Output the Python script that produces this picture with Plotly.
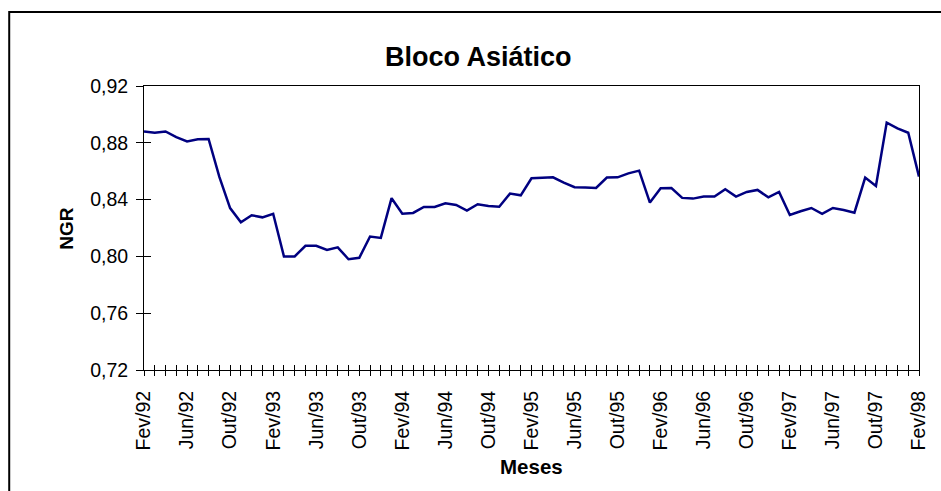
import plotly.graph_objects as go

# ---- data ----
month_abbr = ["Jan", "Fev", "Mar", "Abr", "Mai", "Jun", "Jul", "Ago", "Set", "Out", "Nov", "Dez"]
start_year = 1992
start_month = 1  # index of Fev
n_points = 73
labels = []
for i in range(n_points):
    m = (start_month + i) % 12
    y = start_year + (start_month + i) // 12
    labels.append(f"{month_abbr[m]}/{str(y)[-2:]}")

ngr = [0.888, 0.887, 0.888, 0.884, 0.881, 0.8825, 0.8827, 0.856, 0.834, 0.824,
       0.829, 0.8275, 0.830, 0.800, 0.800, 0.8075, 0.8075, 0.8045, 0.8064, 0.798,
       0.799, 0.814, 0.813, 0.841, 0.830, 0.8306, 0.8348, 0.8348, 0.8374, 0.8362,
       0.8322, 0.8367, 0.8355, 0.835, 0.8442, 0.843, 0.855, 0.8551, 0.8557, 0.852,
       0.8487, 0.8485, 0.8482, 0.8555, 0.8557, 0.8585, 0.8604, 0.8379, 0.848, 0.8482,
       0.8412, 0.8407, 0.8421, 0.8421, 0.8473, 0.8421, 0.8454, 0.8468, 0.8416, 0.8454,
       0.8292, 0.8318, 0.8341, 0.8299, 0.8341, 0.8327, 0.8308, 0.8555, 0.8496, 0.8942,
       0.8902, 0.8871, 0.8562]

y_ticks = [0.72, 0.76, 0.80, 0.84, 0.88, 0.92]
label_step = 4

title_text = "Bloco Asiático"
x_title = "Meses"
y_title = "NGR"

# ---- figure ----
idx = list(range(len(ngr)))
ticktext = [lab if i % label_step == 0 else "" for i, lab in enumerate(labels)]

FONT = "Liberation Sans, Arial, sans-serif"
TICK_SIZE = 19.5

fig = go.Figure()
fig.add_trace(go.Scatter(x=idx, y=ngr, mode="lines",
                         line=dict(color="#000080", width=2.5),
                         hoverinfo="skip", showlegend=False))
# invisible twin trace to realise the inner half of the cross tick marks
fig.add_trace(go.Scatter(x=idx, y=ngr, mode="lines", xaxis="x2", yaxis="y2",
                         opacity=0, hoverinfo="skip", showlegend=False))

L, R, T, B = 144, 15, 86, 121
W, H = 941, 491
pw, ph = W - L - R, H - T - B

fig.update_layout(
    width=W, height=H,
    margin=dict(l=L, r=R, t=T, b=B),
    paper_bgcolor="white", plot_bgcolor="white",
    separators=",.",
    font=dict(family=FONT, color="black", size=TICK_SIZE),
    xaxis=dict(range=[0, len(ngr) - 1], tickvals=idx, ticktext=ticktext,
               tickangle=-90, ticks="outside", ticklen=5, tickcolor="black",
               tickwidth=1, showline=True, linecolor="black", linewidth=1,
               mirror=True, showgrid=False, zeroline=False, ticklabelstandoff=7,
               tickfont=dict(size=TICK_SIZE, family=FONT)),
    yaxis=dict(range=[y_ticks[0], y_ticks[-1]], tickvals=y_ticks, tickformat=".2f",
               ticks="outside", ticklen=7, tickcolor="black", tickwidth=1,
               showline=True, linecolor="black", linewidth=1, mirror=True,
               showgrid=False, zeroline=False, ticklabelstandoff=4,
               tickfont=dict(size=TICK_SIZE, family=FONT)),
    xaxis2=dict(range=[0, len(ngr) - 1], tickvals=idx, overlaying="x",
                anchor="y2", side="bottom", ticks="inside", ticklen=5,
                tickcolor="black", tickwidth=1, showticklabels=False,
                showline=False, showgrid=False, zeroline=False),
    yaxis2=dict(range=[y_ticks[0], y_ticks[-1]], tickvals=y_ticks, overlaying="y",
                anchor="x2", side="left", ticks="inside", ticklen=7,
                tickcolor="black", tickwidth=1, showticklabels=False,
                showline=False, showgrid=False, zeroline=False),
    showlegend=False,
)

def px_x(p):
    return (p - L) / pw

def px_y(p):
    return (H - B - p) / ph

fig.add_annotation(text=f"<b>{title_text}</b>", xref="paper", yref="paper",
                   x=px_x(482), y=px_y(57), xanchor="center", yanchor="middle",
                   showarrow=False, font=dict(size=27, family=FONT))
fig.add_annotation(text=f"<b>{x_title}</b>", xref="paper", yref="paper",
                   x=px_x(535), y=px_y(466), xanchor="center", yanchor="middle",
                   showarrow=False, font=dict(size=20.5, family=FONT))
fig.add_annotation(text=f"<b>{y_title}</b>", xref="paper", yref="paper",
                   x=px_x(65), y=px_y(228), xanchor="center", yanchor="middle",
                   textangle=-90, showarrow=False, font=dict(size=19, family=FONT))

# outer chart-area border
fig.add_shape(type="rect", xref="paper", yref="paper",
              x0=px_x(8), x1=px_x(960), y0=px_y(510), y1=px_y(12),
              line=dict(color="black", width=2), fillcolor="rgba(0,0,0,0)",
              layer="below")

fig.write_html("out.html")
